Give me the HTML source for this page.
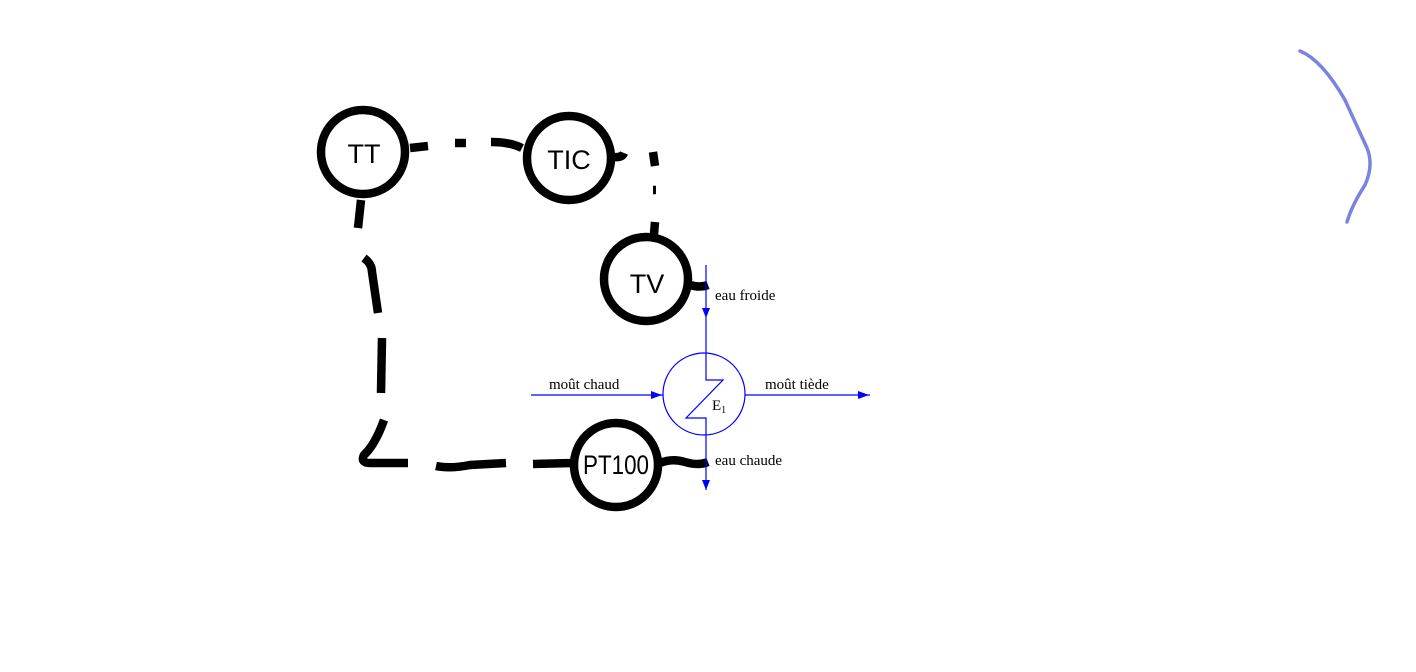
<!DOCTYPE html>
<html><head><meta charset="utf-8"><style>
html,body{margin:0;padding:0;background:#fff;width:1416px;height:672px;overflow:hidden}
svg{display:block}
.lbl{font-family:"Liberation Sans","DejaVu Sans",sans-serif;font-size:27px}
.ser{font-family:"Liberation Serif",serif;font-size:15px}
</style></head><body>
<svg width="1416" height="672">
<g fill="none" stroke="#000" stroke-width="8.5" stroke-linecap="butt" stroke-linejoin="round">
<path d="M410 148 L428 146"/>
<path d="M455 143 L466 143"/>
<path d="M491 142 Q510 142 522 148"/>
<path d="M613 157 Q622 158 624 153"/>
<path d="M653 152 L655 166"/>
<path d="M653 190 L656 190"/>
<path d="M655 222 L654 234"/>
<path d="M361 200 L358 228"/>
<path d="M364 258 Q372 264 372 272 L378 313"/>
<path d="M382 338 L381 393"/>
<path d="M384 420 Q375 445 364 455 Q360 463 370 463 L408 463"/>
<path d="M436 466 Q450 469 470 465 L506 463"/>
<path d="M533 464 L572 463"/>
<path d="M660 463 Q672 458 685 462 Q698 466 708 462"/>
<path d="M690 285 Q700 288 708 285"/>
</g>
<g><circle cx="363" cy="152" r="42" fill="#fff" stroke="#000" stroke-width="8.5"/><text class="lbl" x="364" y="163" text-anchor="middle">TT</text></g>
<g><circle cx="569" cy="158" r="42" fill="#fff" stroke="#000" stroke-width="8.5"/><text class="lbl" x="569" y="169" text-anchor="middle">TIC</text></g>
<g><circle cx="646" cy="279" r="42" fill="#fff" stroke="#000" stroke-width="8.5"/><text class="lbl" x="647" y="293" text-anchor="middle">TV</text></g>
<g><circle cx="616" cy="465" r="42" fill="#fff" stroke="#000" stroke-width="8.5"/><text class="lbl" x="583" y="474" font-size="25" textLength="66" lengthAdjust="spacingAndGlyphs">PT100</text></g>
<g stroke="#0000ff" stroke-width="1.2" fill="none">
<line x1="706" y1="265" x2="706" y2="353"/>
<line x1="706" y1="433" x2="706" y2="490"/>
<path d="M706 353 L706 380 L723 380 L686 418 L706 418 L706 433"/>
<circle cx="704" cy="394" r="41"/>
<line x1="531" y1="395" x2="663" y2="395"/>
<line x1="745" y1="395" x2="870" y2="395"/>
</g>
<g fill="#0000ff">
<polygon points="702,308 710,308 706,318"/>
<polygon points="702,480 710,480 706,490"/>
<polygon points="651,391 651,399 662,395"/>
<polygon points="858,391 858,399 869,395"/>
</g>
<text class="ser" x="715" y="300">eau froide</text>
<text class="ser" x="549" y="389">moût chaud</text>
<text class="ser" x="765" y="389">moût tiède</text>
<text class="ser" x="712" y="410">E<tspan font-size="10" dy="3">1</tspan></text>
<text class="ser" x="715" y="465">eau chaude</text>
<path d="M1300 51 Q1322 60 1345 100 L1367 148 Q1374 165 1365 185 Q1352 205 1347 222" fill="none" stroke="#5a64d8" stroke-width="3.5" stroke-linecap="round" opacity="0.8"/>
</svg>
</body></html>
